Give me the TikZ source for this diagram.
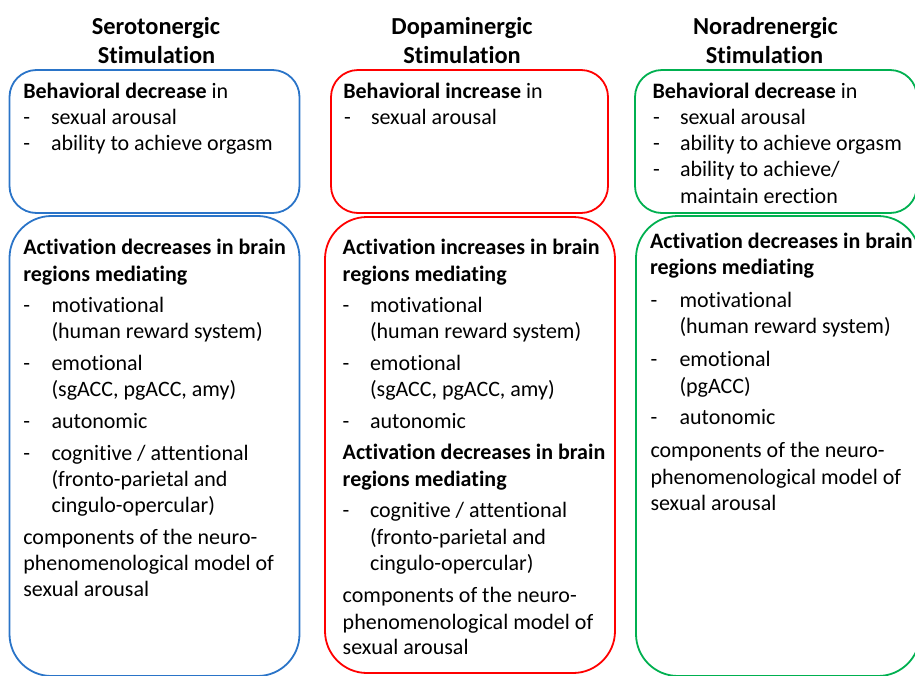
\documentclass[tikz,border=0pt]{standalone}
\usepackage{fontspec}
\setmainfont{Carlito}[Ligatures={NoCommon,NoRare,NoContextual}]
\definecolor{boxblue}{HTML}{2A74C8}
\definecolor{boxred}{HTML}{FF0000}
\definecolor{boxgreen}{HTML}{00B050}
\newcommand{\tline}[4]{\node[txt] (#1) at (#2,#3) {#4};}
\newcommand{\titem}[5]{\node[txt] (#1d) at (#2,#4) {-};\node[txt] (#1) at (#3,#4) {#5};}
\begin{document}
\begin{tikzpicture}[x=1pt,y=-1pt,
  txt/.style={anchor=base west,inner sep=0pt,outer sep=0pt,font=\fontsize{22}{26}\selectfont,text=black},
  ttl/.style={anchor=base,inner sep=0pt,outer sep=0pt,font=\fontsize{24.4}{28}\selectfont\bfseries,text=black},
  topbox/.style={draw=#1,line width=1.8pt,rounded corners=27pt,inner sep=0pt,outer sep=0pt},
  botbox/.style={draw=#1,line width=1.8pt,rounded corners=42pt,inner sep=0pt,outer sep=0pt}]
\useasboundingbox (0,0) rectangle (915,675);
\begin{scope}
\clip (0,0) rectangle (915,675);
\node[topbox=boxblue,minimum width=290pt,minimum height=143pt] (bTop) at (154.5,141.5) {};
\node[topbox=boxred,minimum width=277pt,minimum height=143pt] (rTop) at (469.5,141.5) {};
\node[topbox=boxgreen,minimum width=282pt,minimum height=143pt] (gTop) at (776,141.5) {};
\node[botbox=boxblue,minimum width=290pt,minimum height=460pt] (bBot) at (154.5,446) {};
\node[botbox=boxred,minimum width=290pt,minimum height=456pt] (rBot) at (470,445) {};
\node[botbox=boxgreen,minimum width=284pt,minimum height=460pt] (gBot) at (778,446) {};
\end{scope}
% titles
\node[ttl] (t1a) at (156,34.5) {Serotonergic};
\node[ttl] (t1b) at (156.5,63.5) {Stimulation};
\node[ttl] (t2a) at (462,34.5) {Dopaminergic};
\node[ttl] (t2b) at (462,63.5) {Stimulation};
\node[ttl] (t3a) at (765.5,34.5) {Noradrenergic};
\node[ttl] (t3b) at (764.5,63.5) {Stimulation};
% blue top
\tline{b0}{23.3}{98.3}{\textbf{Behavioral decrease} in}
\titem{b1}{23.3}{51}{124.5}{sexual arousal}
\titem{b2}{23.3}{51}{150.7}{ability to achieve orgasm}
% red top
\tline{r0}{343.3}{98.3}{\textbf{Behavioral increase} in}
\titem{r1}{344}{371}{124.5}{sexual arousal}
% green top
\tline{g0}{652.5}{98.3}{\textbf{Behavioral decrease} in}
\titem{g1}{653}{680}{124.5}{sexual arousal}
\titem{g2}{653}{680}{150.7}{ability to achieve orgasm}
\titem{g3}{653}{680}{176.9}{ability to achieve/}
\tline{g4}{680}{203.1}{maintain erection}
% blue bottom
\tline{bb0}{23.3}{254.8}{\textbf{Activation decreases in brain}}
\tline{bb1}{23.3}{281}{\textbf{regions mediating}}
\titem{bb2}{23.3}{51.5}{312.7}{motivational}
\tline{bb3}{51.5}{338.9}{(human reward system)}
\titem{bb4}{23.3}{51.5}{370.6}{emotional}
\tline{bb5}{51.5}{396.8}{(sgACC, pgACC, amy)}
\titem{bb6}{23.3}{51.5}{428.5}{autonomic}
\titem{bb7}{23.3}{51.5}{460.2}{cognitive / attentional}
\tline{bb8}{51.5}{486.4}{(fronto-parietal and}
\tline{bb9}{51.5}{512.6}{cingulo-opercular)}
\tline{bb10}{23.3}{544.3}{components of the neuro-}
\tline{bb11}{23.3}{570.5}{phenomenological model of}
\tline{bb12}{23.3}{596.7}{sexual arousal}
% red bottom
\tline{rb0}{342.7}{254.8}{\textbf{Activation increases in brain}}
\tline{rb1}{342.7}{281}{\textbf{regions mediating}}
\titem{rb2}{342.7}{370}{312.7}{motivational}
\tline{rb3}{370}{338.9}{(human reward system)}
\titem{rb4}{342.7}{370}{370.6}{emotional}
\tline{rb5}{370}{396.8}{(sgACC, pgACC, amy)}
\titem{rb6}{342.7}{370}{428}{autonomic}
\tline{rb7}{342.7}{459.6}{\textbf{Activation decreases in brain}}
\tline{rb8}{342.7}{486}{\textbf{regions mediating}}
\titem{rb9}{342.7}{370}{517.4}{cognitive / attentional}
\tline{rb10}{370}{544.1}{(fronto-parietal and}
\tline{rb11}{370}{570.2}{cingulo-opercular)}
\tline{rb12}{342.7}{602.8}{components of the neuro-}
\tline{rb13}{342.7}{629.3}{phenomenological model of}
\tline{rb14}{342.7}{654.8}{sexual arousal}
% green bottom
\tline{gb0}{650}{248.8}{\textbf{Activation decreases in brain}}
\tline{gb1}{650}{274.8}{\textbf{regions mediating}}
\titem{gb2}{650.5}{679.5}{307.5}{motivational}
\tline{gb3}{679.5}{333.8}{(human reward system)}
\titem{gb4}{650.5}{679.5}{366.8}{emotional}
\tline{gb5}{679.5}{393.3}{(pgACC)}
\titem{gb6}{650.5}{679.5}{424.8}{autonomic}
\tline{gb7}{650.5}{457.5}{components of the neuro-}
\tline{gb8}{650.5}{484.1}{phenomenological model of}
\tline{gb9}{650.5}{510.8}{sexual arousal}
\end{tikzpicture}
\end{document}
